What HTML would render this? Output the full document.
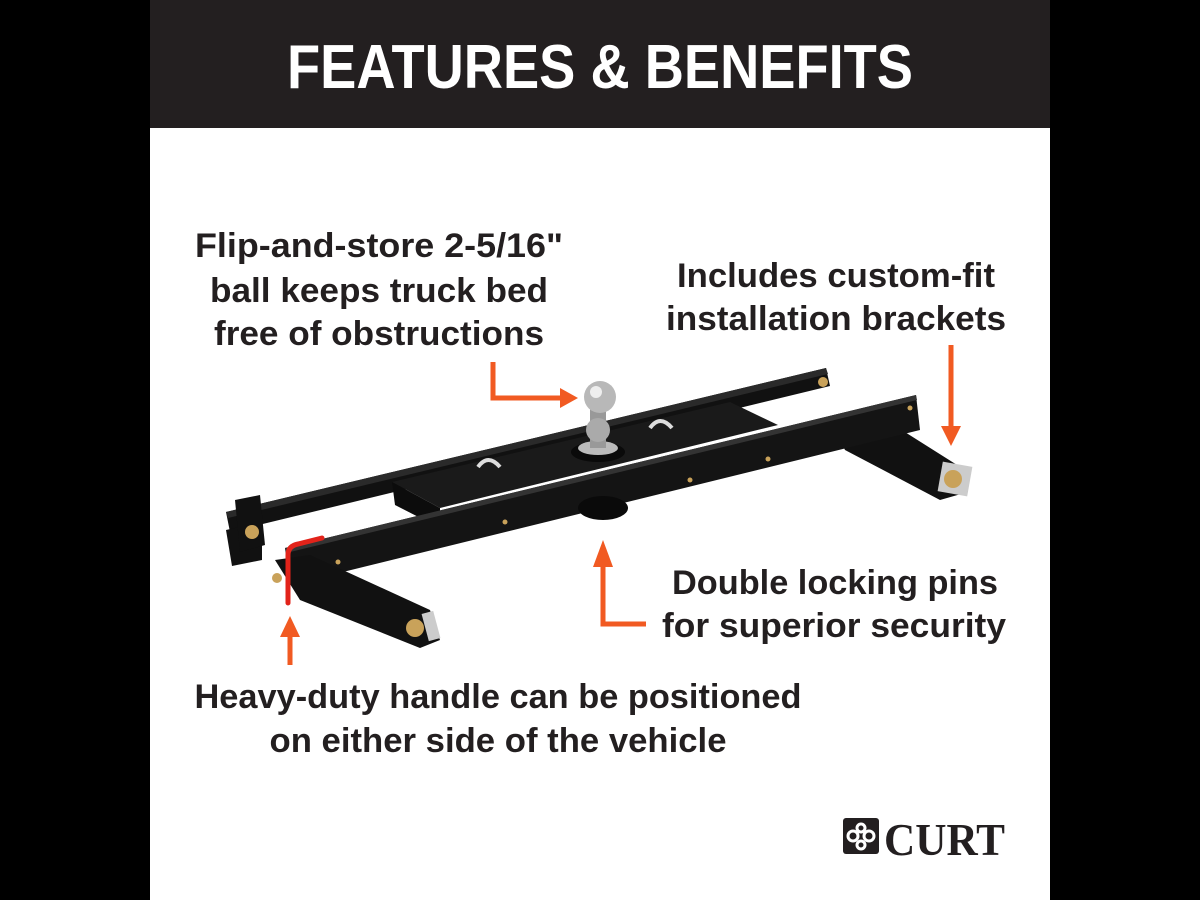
<!DOCTYPE html>
<html><head><style>html,body{margin:0;padding:0;background:#000}svg{display:block}</style></head><body>
<svg width="1200" height="900" viewBox="0 0 1200 900" xmlns="http://www.w3.org/2000/svg" font-family="Liberation Sans, sans-serif" font-weight="bold">
<rect width="1200" height="900" fill="#000"/>
<rect x="150" y="0" width="900" height="900" fill="#fff"/>
<rect x="150" y="0" width="900" height="128" fill="#231f20"/>
<text x="600" y="88" fill="#fff" font-size="62" text-anchor="middle" textLength="626" lengthAdjust="spacingAndGlyphs">FEATURES &amp; BENEFITS</text>

<g fill="#231f20" font-size="34">
<text x="379" y="257" text-anchor="middle" textLength="368" lengthAdjust="spacingAndGlyphs">Flip-and-store 2-5/16"</text>
<text x="379" y="302" text-anchor="middle" textLength="338" lengthAdjust="spacingAndGlyphs">ball keeps truck bed</text>
<text x="379" y="345" text-anchor="middle" textLength="330" lengthAdjust="spacingAndGlyphs">free of obstructions</text>
<text x="836" y="287" text-anchor="middle" textLength="318" lengthAdjust="spacingAndGlyphs">Includes custom-fit</text>
<text x="836" y="330" text-anchor="middle" textLength="340" lengthAdjust="spacingAndGlyphs">installation brackets</text>
<text x="835" y="594" text-anchor="middle" textLength="326" lengthAdjust="spacingAndGlyphs">Double locking pins</text>
<text x="834" y="637" text-anchor="middle" textLength="344" lengthAdjust="spacingAndGlyphs">for superior security</text>
<text x="498" y="708" text-anchor="middle" textLength="607" lengthAdjust="spacingAndGlyphs">Heavy-duty handle can be positioned</text>
<text x="498" y="752" text-anchor="middle" textLength="457" lengthAdjust="spacingAndGlyphs">on either side of the vehicle</text>
</g>

<!-- hitch -->
<g>
<!-- back rail -->
<polygon points="226,512 826,368 830,386 230,532" fill="#111"/>
<polygon points="226,512 826,368 828,374 228,518" fill="#2a2a2a"/>
<polygon points="226,530 262,522 262,560 232,566" fill="#111"/>
<!-- right leg -->
<polygon points="830,420 870,410 965,470 968,492 940,500 845,450" fill="#111"/>
<rect x="940" y="464" width="30" height="30" fill="#ccc" transform="rotate(10 955 479)"/>
<circle cx="953" cy="479" r="9" fill="#c9a25a"/>
<!-- center plate -->
<polygon points="392,482 730,402 778,425 440,508" fill="#1a1a1a"/>
<polygon points="392,482 440,508 440,528 395,505" fill="#0c0c0c"/>
<!-- rod -->
<polygon points="300,548 445,510 447,516 302,556" fill="#ccc"/>
<!-- front rail -->
<polygon points="285,548 916,395 920,430 290,585" fill="#141414"/>
<polygon points="285,548 916,395 917,400 286,553" fill="#333"/>
<!-- left bracket & leg -->
<polygon points="235,500 260,495 265,545 240,552" fill="#111"/>
<circle cx="252" cy="532" r="7" fill="#c9a25a"/>
<polygon points="275,560 310,555 430,610 440,640 420,648 300,600" fill="#111"/>
<rect x="425" y="612" width="12" height="28" fill="#ccc" transform="rotate(-15 431 626)"/>
<circle cx="415" cy="628" r="9" fill="#c9a25a"/>
<circle cx="277" cy="578" r="5" fill="#c9a25a"/>
<!-- pins dots -->
<g fill="#c9a25a"><circle cx="338" cy="562" r="2.5"/><circle cx="505" cy="522" r="2.5"/><circle cx="590" cy="505" r="2.5"/><circle cx="690" cy="480" r="2.5"/><circle cx="768" cy="459" r="2.5"/><circle cx="910" cy="408" r="2.5"/><circle cx="823" cy="382" r="5"/></g>
<!-- locking pin housing -->
<ellipse cx="603" cy="508" rx="25" ry="12" fill="#0a0a0a"/>
<!-- U handles -->
<path d="M478,467 q10,-14 22,0" stroke="#ddd" stroke-width="4" fill="none"/>
<path d="M650,428 q10,-14 22,0" stroke="#ddd" stroke-width="4" fill="none"/>
<!-- ball -->
<ellipse cx="598" cy="452" rx="27" ry="10" fill="#0a0a0a"/>
<ellipse cx="598" cy="448" rx="20" ry="7" fill="#bbb"/>
<rect x="590" y="408" width="16" height="40" fill="#999"/>
<ellipse cx="598" cy="430" rx="12" ry="12" fill="#aaa"/>
<circle cx="600" cy="397" r="16" fill="#b8b8b8"/>
<circle cx="596" cy="392" r="6" fill="#eee"/>
<!-- red handle -->
<path d="M288,603 L288,555 Q288,546 298,544 L322,538" stroke="#e2231a" stroke-width="5" fill="none" stroke-linecap="round"/>
</g>

<!-- arrows -->
<g stroke="#f15a22" stroke-width="5" fill="none">
<path d="M493,362 L493,398 L562,398"/>
<path d="M951,345 L951,428"/>
<path d="M603,565 L603,624 L646,624"/>
<path d="M290,665 L290,635"/>
</g>
<g fill="#f15a22">
<polygon points="560,388 578,398 560,408"/>
<polygon points="941,426 951,446 961,426"/>
<polygon points="593,567 603,540 613,567"/>
<polygon points="280,637 290,616 300,637"/>
</g>

<!-- logo -->
<rect x="843" y="818" width="36" height="36" rx="3" fill="#231f20"/>
<g fill="none" stroke="#fff" stroke-width="3"><circle cx="853" cy="836" r="5"/><circle cx="869" cy="836" r="5"/><circle cx="861" cy="828" r="4"/><circle cx="861" cy="845" r="4"/></g>
<text x="884" y="855" font-family="Liberation Serif, serif" font-size="46" fill="#231f20" textLength="121" lengthAdjust="spacingAndGlyphs">CURT</text>
</svg>
</body></html>
